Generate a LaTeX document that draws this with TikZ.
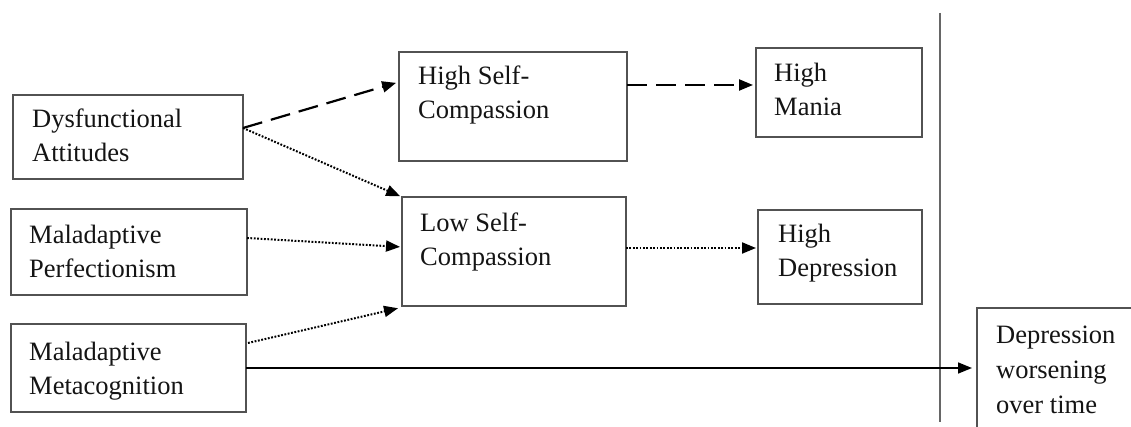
\documentclass[tikz,border=0pt]{standalone}
\usepackage{fontspec}
\setmainfont{Liberation Serif}
\usetikzlibrary{arrows.meta,calc}
\tikzset{
  box/.style={draw=black!68, line width=1.4pt, anchor=north west, inner sep=0pt, outer sep=0pt},
  lbl/.style={anchor=base west, inner sep=0pt, text=black!92, font=\fontsize{26.5}{34}\selectfont},
  arrowtip/.style={-{Triangle[length=14pt,width=11pt]}},
  dasharrow/.style={arrowtip, line width=2.2pt, dash pattern=on 20pt off 9pt},
  dotarrow/.style={arrowtip, line width=2pt, dash pattern=on 1.8pt off 1.6pt},
  solidarrow/.style={arrowtip, line width=1.6pt},
  divider/.style={draw=black!60, line width=1.4pt}
}
\newcommand{\boxlines}[1]{\parbox[t]{200pt}{#1}}
\begin{document}
\begin{tikzpicture}[x=1pt,y=-1pt]
\useasboundingbox (0,0) rectangle (1131,427);
\clip (0,0) rectangle (1131,427);
\fill[white] (0,0) rectangle (1131,427);

% boxes
\node[box, minimum width=230pt, minimum height=84pt] (dys) at (13,95) {};
\node[box, minimum width=236pt, minimum height=86pt] (perf) at (11,209) {};
\node[box, minimum width=235pt, minimum height=88pt] (meta) at (11,324) {};
\node[box, minimum width=228pt, minimum height=109pt] (hsc) at (399,52) {};
\node[box, minimum width=224pt, minimum height=109pt] (lsc) at (402,197) {};
\node[box, minimum width=166pt, minimum height=89pt] (mania) at (756,48) {};
\node[box, minimum width=164pt, minimum height=94pt] (hdep) at (758,210) {};
\node[box, minimum width=180pt, minimum height=140pt] (dwot) at (977,308) {};

% labels
\node[lbl] (dys-t) at ($(dys.north west)+(19,33)$) {\boxlines{Dysfunctional\\Attitudes}};
\node[lbl] (perf-t) at ($(perf.north west)+(18,35)$) {\boxlines{Maladaptive\\Perfectionism}};
\node[lbl] (meta-t) at ($(meta.north west)+(18,36)$) {\boxlines{Maladaptive\\Metacognition}};
\node[lbl] (hsc-t) at ($(hsc.north west)+(19,33)$) {\boxlines{High Self-\\Compassion}};
\node[lbl] (lsc-t) at ($(lsc.north west)+(18,35)$) {\boxlines{Low Self-\\Compassion}};
\node[lbl] (mania-t) at ($(mania.north west)+(18,34)$) {\boxlines{High\\Mania}};
\node[lbl] (hdep-t) at ($(hdep.north west)+(20,33)$) {\boxlines{High\\Depression}};
\node[lbl, font=\fontsize{26.5}{35}\selectfont] (dwot-t) at ($(dwot.north west)+(19,35)$) {\boxlines{Depression\\worsening\\over time}};

% divider
\coordinate (vtop) at (940,13);
\coordinate (vbot) at (940,422);
\draw[divider] (vtop) -- (vbot);

% connectors
\coordinate (dA) at ($(dys.east)+(0,-9)$);
\draw[dasharrow, shorten >=3pt] (dA) -- ($(hsc.north west)+(0,30)$);
\draw[dotarrow, shorten >=2pt] (dA) -- (lsc.north west);
\coordinate (pA) at ($(perf.east)+(0,-14)$);
\draw[dotarrow, shorten >=2pt] (pA) -- ($(lsc.west)+(0,-4.5)$);
\coordinate (mA) at ($(meta.east)+(2,-25)$);
\draw[dotarrow, shorten >=1pt] (mA) -- ($(lsc.south west)+(-3,2)$);
\draw[solidarrow, shorten >=5pt] (meta.east) -- (meta.east -| dwot.west);
\coordinate (hA) at ($(hsc.east)+(0,-21.5)$);
\draw[dasharrow, shorten >=3pt] (hA) -- (hA -| mania.west);
\coordinate (lA) at ($(lsc.east)+(0,-3.5)$);
\draw[dotarrow, shorten >=2pt] (lA) -- (lA -| hdep.west);
\end{tikzpicture}
\end{document}
